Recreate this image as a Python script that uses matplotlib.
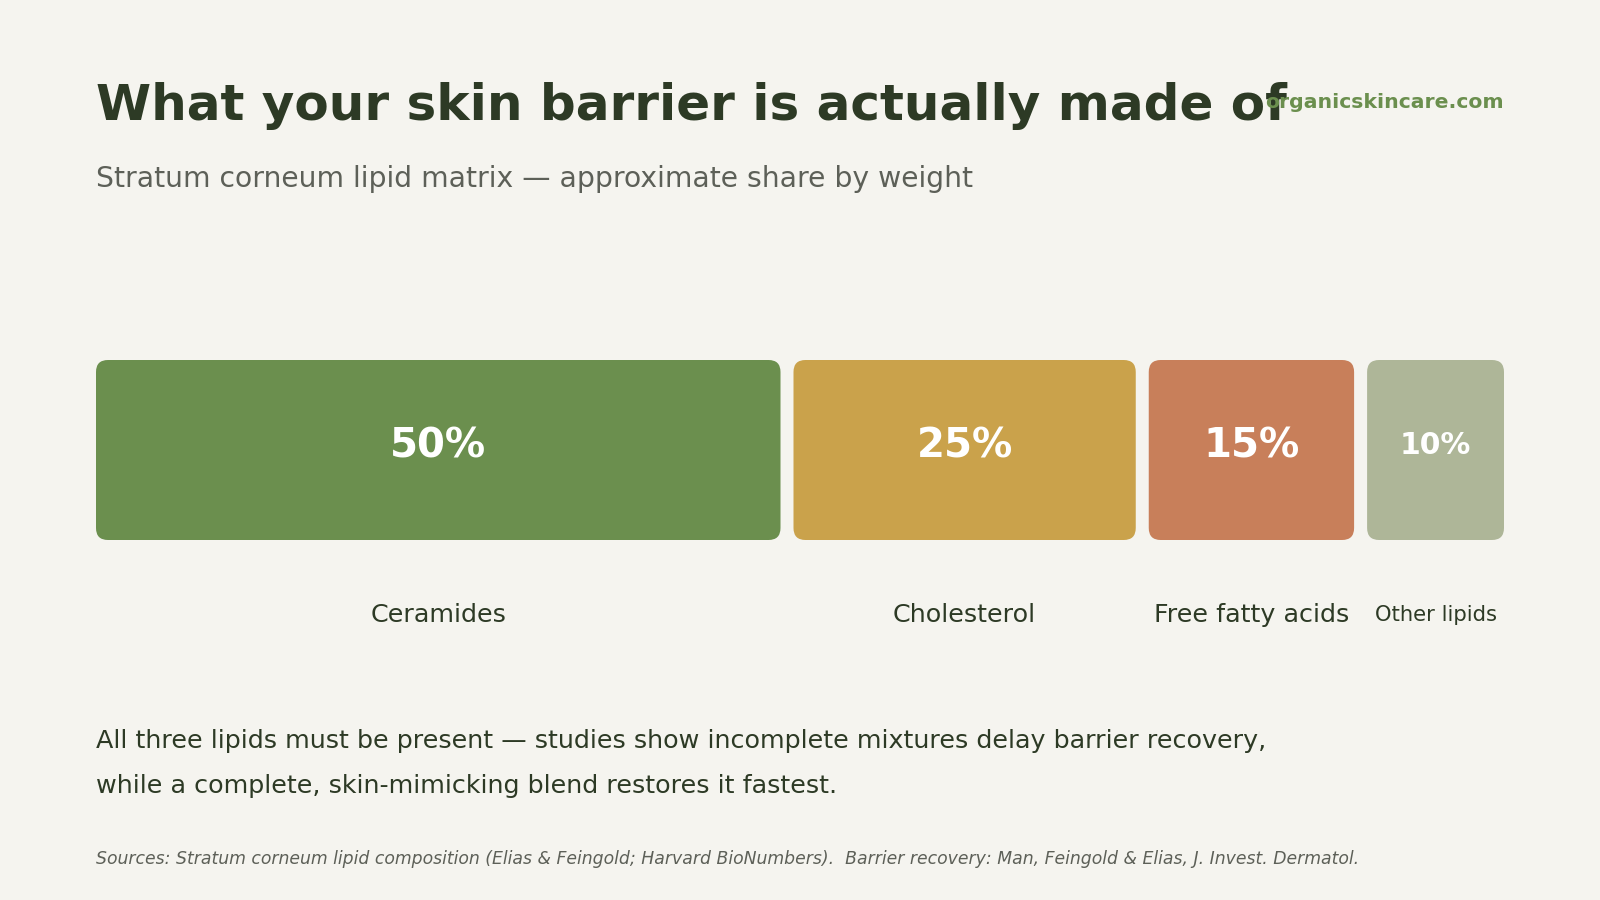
import matplotlib
matplotlib.use("Agg")
import matplotlib.pyplot as plt
from matplotlib.patches import FancyBboxPatch

categories = ["Ceramides", "Cholesterol", "Free fatty acids", "Other lipids"]
shares = [50, 25, 15, 10]
value_labels = ["50%", "25%", "15%", "10%"]
colors = ["#6b8f4e", "#caa24b", "#c87f5a", "#aeb698"]

title = "What your skin barrier is actually made of"
subtitle = "Stratum corneum lipid matrix \u2014 approximate share by weight"
brand = "organicskincare.com"
note_lines = ["All three lipids must be present \u2014 studies show incomplete mixtures delay barrier recovery,",
              "while a complete, skin-mimicking blend restores it fastest."]
sources = ("Sources: Stratum corneum lipid composition (Elias & Feingold; Harvard BioNumbers).  "
           "Barrier recovery: Man, Feingold & Elias, J. Invest. Dermatol.")

BG = "#f5f4ef"
DARK = "#2d3a25"
GREY = "#5d6058"

fig = plt.figure(figsize=(16, 9), dpi=100, facecolor=BG)
ax = fig.add_axes([0, 0, 1, 1])
ax.set_facecolor(BG)
ax.set_xlim(0, 1600)
ax.set_ylim(900, 0)
ax.axis("off")

left, right = 96, 1504
top, bottom = 360, 540
gap = 13
avail = (right - left) - gap * (len(shares) - 1)
total = sum(shares)
x = left
for cat, s, lab, c in zip(categories, shares, value_labels, colors):
    w = avail * s / total
    r = 12
    patch = FancyBboxPatch((x + r, top + r), w - 2 * r, (bottom - top) - 2 * r,
                           boxstyle=f"round,pad={r},rounding_size={r}",
                           facecolor=c, edgecolor="none", mutation_aspect=1)
    ax.add_patch(patch)
    cx = x + w / 2
    small = s < 12
    ax.text(cx, 446, lab, ha="center", va="center", color="white",
            fontsize=21.5 if small else 29, fontweight="bold")
    ax.text(cx, 615, cat, ha="center", va="center", color=DARK,
            fontsize=15.2 if small else 18.3)
    x += w + gap

ax.text(96, 106, title, ha="left", va="center", fontsize=36, fontweight="bold", color=DARK)
ax.text(1504, 103, brand, ha="right", va="center", fontsize=14.7, fontweight="bold", color="#6b8f4e")
ax.text(96, 179, subtitle, ha="left", va="center", fontsize=20.35, color=GREY)
ax.text(96, 741, note_lines[0], ha="left", va="center", fontsize=18.3, color=DARK)
ax.text(96, 786, note_lines[1], ha="left", va="center", fontsize=18.3, color=DARK)
ax.text(96, 859, sources, ha="left", va="center", fontsize=12.45, style="italic", color=GREY)

fig.savefig("out.png", dpi=100, facecolor=BG)
